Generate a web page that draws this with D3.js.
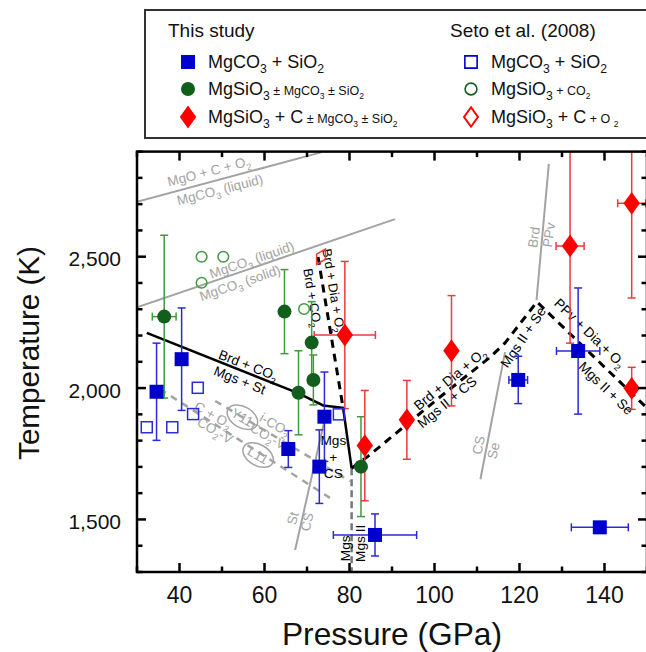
<!DOCTYPE html>
<html><head><meta charset="utf-8">
<script src="https://cdn.jsdelivr.net/npm/d3@7"></script>
<style>body{margin:0;background:#fff}svg{display:block;font-family:"Liberation Sans",Arial,sans-serif}text{white-space:pre}</style>
</head><body><svg id="c" width="646" height="652"></svg>
<script>
// ---------- data ----------
const xMajor=[40,60,80,100,120,140];
const xMinor=[30,50,70,90,110,130,150];
const yMajor=[1500,2000,2500];
const yMinor=[1300,1400,1600,1700,1800,1900,2100,2200,2300,2400,2600,2700,2800,2900];
// This study [P, T, dP, dT]
const mgco=[[34.6,1986,0,185],[40.5,2110,0,195],[65.6,1768,0,70],[74.1,1891,0,170],[72.9,1701,0,140],[86.0,1441,9.8,80],[119.7,2031,2.2,90],[133.8,2141,5.1,240],[138.9,1470,6.7,15]];
const mgsio=[[36.4,2272,2.8,310],[64.7,2291,0,160],[71.1,2173,0,156],[71.5,2031,0,95],[68.0,1982,0,160],[82.7,1701,0,190]];
const mgsioC=[[78.9,2202,7.2,280],[83.6,1781,0,210],[93.5,1879,0,150],[104.0,2142,0,210],[131.9,2541,3.3,370],[146.4,2703,3.3,360],[146.4,1999,0,80]];
// Seto et al. (2008) [P, T]
const setoMgco=[[32.3,1851],[38.3,1851],[43.2,1901],[44.3,2001],[77.5,1900]];
const setoMgsio=[[45.2,2500],[50.3,2500],[45.2,2401],[69.3,2301]];
const setoC=[[73.3,2500]];
// phase boundaries [P, T]
const grayTop=[[30,2709],[73.5,2898]];
const grayMid=[[30,2307],[90.7,2643]];
const graySt=[[67.2,1384],[74.5,1905]];
const grayCS=[[110.8,1653],[116.6,2137]];
const grayPPv=[[124.0,2335],[126.9,2853]];
const dashL11=[[35.4,1996],[75.4,1582]];
const dashY11=[[48.4,1951],[80.1,1646]];
const blackSolid=[[32.3,2210],[67.9,1981],[73.8,1934],[78.5,1925],[80.5,1695]];
const blackSteep=[[72.6,2499],[78.5,1924]];
const blackRight=[[80.5,1695],[84.4,1741],[101.3,1966],[113.1,2118],[116.6,2172],[124.1,2328],[150,1924]];
const mgsVertical=[[80.5,1695],[80.5,1300]];
// annotations [text, P, T, angle, kind, size]
const notes=[
 ["MgO + C + O_2",46.9,2826,-14.5,"g",13.5],
 ["MgCO_3 (liquid)",49.5,2756,-14.5,"g",13.5],
 ["MgCO_3 (liquid)",57.0,2489,-19,"g",13.5],
 ["MgCO_3 (solid)",54.2,2401,-19,"g",13.5],
 ["Brd + CO_2",56.2,2088,21.5,"k",13.7],
 ["Mgs + St",54.2,2031,21.5,"k",13.7],
 ["C + O_2",48.0,1898,30,"g",13.5],
 ["CO_2-V",48.4,1840,30,"g",13.5],
 ["i-CO_2",62.5,1862,30,"g",13.5],
 ["CO_2-V",60.9,1818,30,"g",13.5],
 ["St",66.6,1504,-76,"g",13.5],
 ["CS",69.9,1491,-76,"g",13.5],
 ["Mgs",76.2,1802,0,"k",13.7],
 ["+",76.2,1739,0,"k",13.7],
 ["CS",76.2,1678,0,"k",13.7],
 ["Brd + CO_2",71.4,2344,80.6,"k",13],
 ["Brd + Dia + O_2",76.4,2372,80.6,"k",13],
 ["Mgs",78.9,1390,-90,"k",13.7],
 ["Mgs II",82.5,1409,-90,"k",13.7],
 ["Brd + Dia + O_2",103.6,2035,-39.5,"k",13.7],
 ["Mgs II + CS",102.9,1947,-39.5,"k",13.7],
 ["Mgs II + Se",120.8,2194,-56,"k",13.7],
 ["PPv + Dia + O_2",136.6,2210,44,"k",13.7],
 ["Mgs II + Se",140.4,2000,44,"k",13.7],
 ["Brd",123.3,2574,-82,"g",13.5],
 ["PPv",126.8,2583,-82,"g",13.5],
 ["CS",110.3,1783,-78,"g",13.5],
 ["Se",113.8,1762,-78,"g",13.5]
];
const ellipses=[["Y11",54.8,1889,30],["L11",58.5,1745,30]];

// ---------- setup ----------
const svg=d3.select('#c');
svg.append('rect').attr('width',646).attr('height',652).attr('fill','#fff');
const x=d3.scaleLinear().domain([30,150]).range([137,647]);
const y=d3.scaleLinear().domain([1300,2900]).range([572,151.6]);
const BLUE='#0000cc',BLUE_E='#2a2ad6',GREEN='#125e1c',GREEN_E='#3f9a3f',RED='#ff0000',RED_E='#ee3a3a',GRAY='#a3a3a3';

function rich(t,str,size,small){
  let sm=false,segs=[],cur='';
  const push=()=>{if(cur){segs.push({t:cur,sub:false,small:sm});cur='';}};
  for(let i=0;i<str.length;i++){
    const c=str[i];
    if(c==='_'){push();segs.push({t:str[i+1],sub:true,small:sm});i++;}
    else if(c==='{'){push();sm=true;}
    else if(c==='}'){push();sm=false;}
    else cur+=c;
  }
  push();
  let sh=0;
  segs.forEach(s=>{
    const base=s.small?small:size;
    const ts=t.append('tspan').attr('font-size',s.sub?base*0.68:base).text(s.t);
    const want=s.sub?base*0.3:0;
    if(want!==sh){ts.attr('dy',want-sh);sh=want;}
  });
}

// ---------- legend ----------
const lg=svg.append('g');
lg.append('rect').attr('x',145).attr('y',10).attr('width',520).attr('height',128).attr('fill','#fff').attr('stroke','#333').attr('stroke-width',2);
lg.append('text').attr('x',168).attr('y',37).attr('font-size',19).attr('fill','#111').text('This study');
lg.append('text').attr('x',450).attr('y',37).attr('font-size',19).attr('fill','#111').text('Seto et al. (2008)');
const rowsY=[62,89,117];
const legL=["MgCO_3 + SiO_2","MgSiO_3{ ± MgCO_3 ± SiO_2}","MgSiO_3 + C{ ± MgCO_3 ± SiO_2}"];
const legR=["MgCO_3 + SiO_2","MgSiO_3{ + CO_2}","MgSiO_3 + C{ + O _2}"];
const sym=[d3.symbolSquare,d3.symbolCircle,d3.symbolDiamond];
const symSize=[196,154,150];
const fills=[BLUE,GREEN,RED];
rowsY.forEach((ry,i)=>{
  lg.append('path').attr('d',d3.symbol(sym[i],symSize[i])()).attr('transform',`translate(188,${ry})${i==2?' scale(1.25,1)':''}`).attr('fill',fills[i]);
  rich(lg.append('text').attr('x',208).attr('y',ry+6).attr('fill','#111'),legL[i],18,12.5);
  lg.append('path').attr('d',d3.symbol(sym[i],i==0?150:110)()).attr('transform',`translate(471,${ry})${i==2?' scale(1.25,1)':''}`).attr('fill','none').attr('stroke',fills[i]).attr('stroke-width',1.6);
  rich(lg.append('text').attr('x',491).attr('y',ry+6).attr('fill','#111'),legR[i],18,12.5);
});

// ---------- plot ----------
svg.append('clipPath').attr('id','pc').append('rect').attr('x',137).attr('y',151.6).attr('width',510).attr('height',420.4);
const pg=svg.append('g').attr('clip-path','url(#pc)');
const line=d3.line().x(d=>x(d[0])).y(d=>y(d[1]));
[grayTop,grayMid,graySt,grayCS,grayPPv].forEach(d=>pg.append('path').attr('d',line(d)).attr('fill','none').attr('stroke',GRAY).attr('stroke-width',2));
[dashL11,dashY11].forEach(d=>pg.append('path').attr('d',line(d)).attr('fill','none').attr('stroke',GRAY).attr('stroke-width',2.5).attr('stroke-dasharray','7,6'));
pg.append('path').attr('d',line(mgsVertical)).attr('fill','none').attr('stroke','#777').attr('stroke-width',2.5).attr('stroke-dasharray','7,4');
pg.append('path').attr('d',line(blackSolid)).attr('fill','none').attr('stroke','#000').attr('stroke-width',2.5);
[blackSteep,blackRight].forEach(d=>pg.append('path').attr('d',line(d)).attr('fill','none').attr('stroke','#000').attr('stroke-width',3).attr('stroke-dasharray','8,6'));

// ellipses
ellipses.forEach(e=>{
  const g=pg.append('g').attr('transform',`translate(${x(e[1])},${y(e[2])}) rotate(${e[3]})`);
  g.append('ellipse').attr('rx',16.5).attr('ry',10.5).attr('fill','none').attr('stroke',GRAY).attr('stroke-width',1.5);
  g.append('text').attr('text-anchor','middle').attr('dy',5).attr('font-size',13.5).attr('fill',GRAY).text(e[0]);
});
// annotations
notes.forEach(n=>{
  const t=pg.append('text').attr('text-anchor','middle').attr('dy',5).attr('fill',n[4]=='g'?GRAY:'#000')
    .attr('transform',`translate(${x(n[1])},${y(n[2])}) rotate(${n[3]})`);
  rich(t,n[0],n[5],n[5]);
});

// error bars
function errBars(data,color){
  const g=pg.append('g').attr('stroke',color).attr('stroke-width',1.5).attr('fill','none');
  data.forEach(d=>{
    if(d[3]>0){
      const px=x(d[0]),y1=y(d[1]+d[3]),y2=y(d[1]-d[3]);
      g.append('line').attr('x1',px).attr('x2',px).attr('y1',y1).attr('y2',y2);
      g.append('line').attr('x1',px-4).attr('x2',px+4).attr('y1',y1).attr('y2',y1);
      g.append('line').attr('x1',px-4).attr('x2',px+4).attr('y1',y2).attr('y2',y2);
    }
    if(d[2]>0){
      const py=y(d[1]),x1=x(d[0]-d[2]),x2=x(d[0]+d[2]);
      g.append('line').attr('x1',x1).attr('x2',x2).attr('y1',py).attr('y2',py);
      g.append('line').attr('x1',x1).attr('x2',x1).attr('y1',py-4).attr('y2',py+4);
      g.append('line').attr('x1',x2).attr('x2',x2).attr('y1',py-4).attr('y2',py+4);
    }
  });
}
errBars(mgsio,GREEN_E);errBars(mgco,BLUE_E);errBars(mgsioC,RED_E);

// open markers
pg.selectAll('.os').data(setoMgco).join('rect').attr('x',d=>x(d[0])-5.5).attr('y',d=>y(d[1])-5.5).attr('width',11).attr('height',11).attr('fill','none').attr('stroke',BLUE_E).attr('stroke-width',1.5);
pg.selectAll('.oc').data(setoMgsio).join('circle').attr('cx',d=>x(d[0])).attr('cy',d=>y(d[1])).attr('r',5.3).attr('fill','none').attr('stroke',GREEN_E).attr('stroke-width',1.5);
pg.selectAll('.od').data(setoC).join('path').attr('d',d3.symbol(d3.symbolDiamond,90)()).attr('transform',d=>`translate(${x(d[0])},${y(d[1])}) rotate(30)`).attr('fill','none').attr('stroke',RED_E).attr('stroke-width',1.5);
// filled markers
pg.selectAll('.fs').data(mgco).join('rect').attr('x',d=>x(d[0])-7).attr('y',d=>y(d[1])-7).attr('width',14).attr('height',14).attr('fill',BLUE);
pg.selectAll('.fc').data(mgsio).join('circle').attr('cx',d=>x(d[0])).attr('cy',d=>y(d[1])).attr('r',7).attr('fill',GREEN);
pg.selectAll('.fd').data(mgsioC).join('path').attr('d',d3.symbol(d3.symbolDiamond,150)()).attr('transform',d=>`translate(${x(d[0])},${y(d[1])}) scale(1.25,1)`).attr('fill',RED);

// ---------- axes ----------
const ax=svg.append('g').attr('stroke','#000');
ax.append('rect').attr('x',137).attr('y',151.6).attr('width',510).attr('height',420.4).attr('fill','none').attr('stroke-width',2.5);
function xt(v,len){ax.append('line').attr('x1',x(v)).attr('x2',x(v)).attr('y1',572).attr('y2',572-len).attr('stroke-width',2.5);
  ax.append('line').attr('x1',x(v)).attr('x2',x(v)).attr('y1',151.6).attr('y2',151.6+len).attr('stroke-width',2.5);}
function yt(v,len){ax.append('line').attr('x1',137).attr('x2',137+len).attr('y1',y(v)).attr('y2',y(v)).attr('stroke-width',2.5);
  ax.append('line').attr('x1',647).attr('x2',647-len).attr('y1',y(v)).attr('y2',y(v)).attr('stroke-width',2.5);}
xMajor.forEach(v=>xt(v,9));xMinor.forEach(v=>xt(v,5.5));
yMajor.forEach(v=>yt(v,9));yMinor.forEach(v=>yt(v,5.5));
const fmt=d3.format(',');
svg.selectAll('.xl').data(xMajor).join('text').attr('x',d=>x(d)).attr('y',603).attr('text-anchor','middle').attr('font-size',23).attr('fill','#111').text(d=>d);
svg.selectAll('.yl').data(yMajor).join('text').attr('x',121).attr('y',d=>y(d)+9.5).attr('text-anchor','end').attr('font-size',21).attr('fill','#111').text(d=>fmt(d));
svg.append('text').attr('x',392).attr('y',645).attr('text-anchor','middle').attr('font-size',31.7).attr('fill','#111').text('Pressure (GPa)');
svg.append('text').attr('transform','translate(39,353) rotate(-90)').attr('text-anchor','middle').attr('font-size',29.6).attr('fill','#111').text('Temperature (K)');
</script></body></html>
